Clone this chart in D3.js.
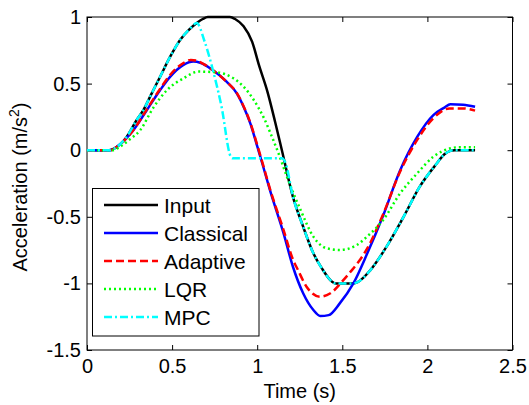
<!DOCTYPE html>
<html>
<head>
<meta charset="utf-8">
<script src="https://cdn.jsdelivr.net/npm/d3@7"></script>
<style>
  body { margin: 0; background: #fff; }
  text { font-family: "Liberation Sans", Arial, Helvetica, sans-serif; fill: #000; }
</style>
</head>
<body>
<div id="chart"></div>
<script>
// [time (s), acceleration (m/s^2)]
var inputData = [[0,0],[0.13,0],[0.17,0.02],[0.233,0.1],[0.292,0.227],[0.331,0.3],[0.37,0.4],[0.429,0.55],[0.488,0.7],
  [0.547,0.827],[0.6,0.905],[0.645,0.955],[0.68,0.985],[0.71,1],[0.84,1],[0.87,0.985],[0.92,0.93],[0.97,0.815],[1.01,0.64],
  [1.06,0.44],[1.105,0.214],[1.145,0],[1.21,-0.35],[1.27,-0.574],[1.33,-0.774],[1.38,-0.887],[1.44,-0.987],[1.46,-1],
  [1.565,-1],[1.59,-0.99],[1.665,-0.9],[1.76,-0.724],[1.86,-0.5],[1.955,-0.274],[2.055,-0.1],[2.1,-0.03],[2.135,-0.005],
  [2.16,0],[2.28,0]];

var classicalData = [[0,0],[0.14,0],[0.175,0.026],[0.272,0.15],[0.351,0.3],[0.429,0.45],[0.488,0.55],[0.567,0.64],
  [0.625,0.665],[0.665,0.657],[0.74,0.6],[0.82,0.514],[0.88,0.427],[0.92,0.327],[0.96,0.2],[1.0,0.03],[1.03,-0.1],
  [1.075,-0.3],[1.155,-0.624],[1.21,-0.875],[1.27,-1.074],[1.33,-1.2],[1.37,-1.245],[1.42,-1.238],[1.485,-1.15],
  [1.565,-1.0],[1.645,-0.78],[1.74,-0.49],[1.84,-0.15],[1.94,0.1],[2.035,0.264],[2.1,0.32],[2.135,0.345],
  [2.21,0.342],[2.28,0.326]];

var adaptiveData = [[0,0],[0.14,0],[0.175,0.026],[0.272,0.15],[0.351,0.305],[0.429,0.46],[0.488,0.565],[0.567,0.655],
  [0.61,0.678],[0.645,0.672],[0.67,0.658],[0.74,0.6],[0.82,0.514],[0.88,0.43],[0.92,0.33],[0.96,0.205],[1.0,0.04],
  [1.03,-0.09],[1.075,-0.29],[1.155,-0.6],[1.21,-0.82],[1.24,-0.9],[1.29,-1.025],[1.37,-1.1],[1.43,-1.074],
  [1.51,-0.97],[1.55,-0.91],[1.6,-0.83],[1.65,-0.73],[1.74,-0.48],[1.84,-0.16],[1.94,0.077],[2.035,0.24],
  [2.13,0.314],[2.21,0.314],[2.28,0.297]];

var lqrData = [[0,0],[0.15,0],[0.194,0.026],[0.25,0.08],[0.312,0.15],[0.39,0.32],[0.469,0.45],[0.567,0.54],
  [0.655,0.59],[0.76,0.585],[0.86,0.54],[0.92,0.477],[0.98,0.377],[1.04,0.24],[1.09,0.09],[1.125,-0.023],
  [1.175,-0.2],[1.255,-0.449],[1.33,-0.649],[1.41,-0.737],[1.487,-0.749],[1.585,-0.712],[1.645,-0.649],
  [1.74,-0.524],[1.84,-0.324],[1.94,-0.174],[2.035,-0.049],[2.135,0.014],[2.18,0.022],[2.28,0.022]];

var mpcData = [[0,0],[0.13,0],[0.17,0.02],[0.233,0.1],[0.292,0.227],[0.331,0.3],[0.37,0.4],[0.429,0.55],[0.488,0.7],
  [0.547,0.827],[0.6,0.905],[0.645,0.955],[0.69,0.82],[0.74,0.6],[0.79,0.33],[0.845,-0.05],[0.855,-0.06],
  [1.145,-0.06],[1.165,-0.09],[1.21,-0.35],[1.27,-0.574],[1.33,-0.774],[1.38,-0.887],[1.44,-0.987],[1.46,-1],
  [1.565,-1],[1.59,-0.99],[1.665,-0.9],[1.76,-0.724],[1.86,-0.5],[1.955,-0.274],[2.055,-0.1],[2.1,-0.03],
  [2.135,-0.005],[2.16,0],[2.28,0]];

var seriesNames = ["Input", "Classical", "Adaptive", "LQR", "MPC"];
var xTicks = [0, 0.5, 1, 1.5, 2, 2.5];
var yTicks = [-1.5, -1, -0.5, 0, 0.5, 1];

var styles = [
  {color: "#000000", dash: null},
  {color: "#0000ff", dash: null},
  {color: "#ff0000", dash: "8,4"},
  {color: "#00ff00", dash: "2,3"},
  {color: "#00ffff", dash: "8,3,2,3"}
];
var allData = [inputData, classicalData, adaptiveData, lqrData, mpcData];

var svgWidth = 529, svgHeight = 405;
var plotL = 87, plotR = 512.5, plotT = 17, plotB = 350;

var svg = d3.select("#chart").append("svg")
  .attr("width", svgWidth)
  .attr("height", svgHeight);

var x = d3.scaleLinear().domain([0, 2.5]).range([plotL, plotR]);
var y = d3.scaleLinear().domain([-1.5, 1]).range([plotB, plotT]);

// axes with inward ticks (box style)
var fmt = function(d) { return String(d); };
svg.append("g").attr("transform", "translate(0," + plotB + ")")
  .call(d3.axisBottom(x).tickValues(xTicks).tickFormat(fmt).tickSizeInner(-5).tickSizeOuter(0).tickPadding(9));
svg.append("g").attr("transform", "translate(0," + plotT + ")")
  .call(d3.axisTop(x).tickValues(xTicks).tickFormat("").tickSizeInner(-5).tickSizeOuter(0));
svg.append("g").attr("transform", "translate(" + plotL + ",0)")
  .call(d3.axisLeft(y).tickValues(yTicks).tickFormat(fmt).tickSizeInner(-5).tickSizeOuter(0).tickPadding(6));
svg.append("g").attr("transform", "translate(" + plotR + ",0)")
  .call(d3.axisRight(y).tickValues(yTicks).tickFormat("").tickSizeInner(-5).tickSizeOuter(0));

svg.selectAll(".domain").remove();
svg.selectAll(".tick line").attr("stroke", "#000");
svg.selectAll(".tick text").attr("font-size", 20).attr("font-family", "Liberation Sans, Arial, sans-serif").attr("fill", "#000");

svg.append("rect")
  .attr("x", plotL).attr("y", plotT)
  .attr("width", plotR - plotL).attr("height", plotB - plotT)
  .attr("fill", "none").attr("stroke", "#000").attr("stroke-width", 1);

// lines
var line = d3.line()
  .x(function(d) { return x(d[0]); })
  .y(function(d) { return y(d[1]); })
  .curve(d3.curveMonotoneX);

allData.forEach(function(data, i) {
  svg.append("path")
    .datum(data)
    .attr("d", line)
    .attr("fill", "none")
    .attr("stroke", styles[i].color)
    .attr("stroke-width", 2.5)
    .attr("stroke-dasharray", styles[i].dash);
});

// axis labels
svg.append("text")
  .attr("x", (plotL + plotR) / 2)
  .attr("y", 398)
  .attr("text-anchor", "middle")
  .attr("font-size", 20)
  .text("Time (s)");

var yl = svg.append("text")
  .attr("transform", "translate(27,187) rotate(-90)")
  .attr("text-anchor", "middle")
  .attr("font-size", 20);
yl.append("tspan").text("Acceleration (m/s");
yl.append("tspan").attr("font-size", 14).attr("dy", -8).text("2");
yl.append("tspan").attr("dy", 8).text(")");

// legend
var legend = svg.append("g");
legend.append("rect")
  .attr("x", 92.5).attr("y", 188.5)
  .attr("width", 166.5).attr("height", 147.5)
  .attr("fill", "#fff").attr("stroke", "#000").attr("stroke-width", 1);

seriesNames.forEach(function(name, i) {
  var ly = 205 + i * 28;
  legend.append("line")
    .attr("x1", 104).attr("x2", 158)
    .attr("y1", ly).attr("y2", ly)
    .attr("stroke", styles[i].color)
    .attr("stroke-width", 2.5)
    .attr("stroke-dasharray", styles[i].dash);
  legend.append("text")
    .attr("x", 164).attr("y", ly)
    .attr("dy", "0.36em")
    .attr("font-size", 21)
    .text(name);
});
</script>
</body>
</html>
